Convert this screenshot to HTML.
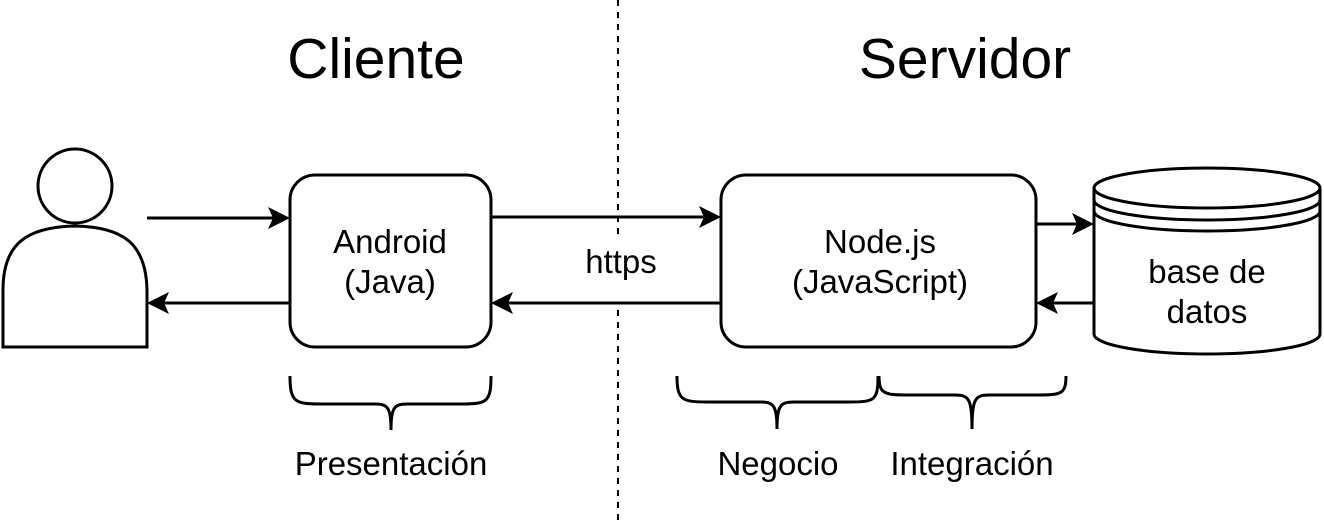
<!DOCTYPE html>
<html><head><style>body{margin:0;background:#fff}</style></head><body>
<svg width="1324" height="524" viewBox="0 0 1324 524" xmlns="http://www.w3.org/2000/svg" font-family="Liberation Sans, sans-serif">
<g stroke="#000" stroke-width="3" fill="none">
<line x1="618" y1="0" x2="618" y2="235" stroke-dasharray="6,6" stroke-width="2"/>
<line x1="618" y1="310" x2="618" y2="524" stroke-dasharray="6,6" stroke-width="2"/>
<circle cx="75" cy="186" r="37" fill="#fff"/>
<path d="M3,347 L3,290 C3,245 25,227 75,226 C125,227 146,245 147,290 L147,347 Z" fill="#fff"/>
<rect x="290" y="175" width="201" height="172" rx="25" fill="#fff"/>
<rect x="721" y="175" width="315" height="172" rx="25" fill="#fff"/>
<path d="M1094,188 L1094,334 A113,20 0 0 0 1320,334 L1320,188" fill="#fff"/>
<ellipse cx="1207" cy="188" rx="113" ry="20" fill="#fff"/>
<path d="M1094,200 A113,20 0 0 0 1320,200"/>
<path d="M1094,211 A113,20 0 0 0 1320,211"/>
<line x1="147" y1="218" x2="278" y2="218"/>
<line x1="290" y1="303" x2="160" y2="303"/>
<line x1="491" y1="217" x2="708" y2="217"/>
<line x1="721" y1="303" x2="503" y2="303"/>
<line x1="1036" y1="224" x2="1082" y2="224"/>
<line x1="1094" y1="303" x2="1048" y2="303"/>
<path d="M290,376 C290,402 295,404 320,404 L375,404 C388,404 391,408 391,430 M391,430 C391,408 394,404 407,404 L462,404 C487,404 491,402 491,376"/>
<path d="M677,376 C677,400 682,402 707,402 L760,402 C774,402 777,406 777,429 M777,429 C777,406 780,402 794,402 L850,402 C875,402 878,400 878,376"/>
<path d="M879,376 C879,393 884,395 905,395 L955,395 C969,395 972,399 972,429 M972,429 C972,399 975,395 989,395 L1040,395 C1062,395 1066,393 1066,376"/>
</g>
<g fill="#000">
<path d="M290,218 L268,207 L273,218 L268,229 Z"/>
<path d="M147,303 L169,292 L164,303 L169,314 Z"/>
<path d="M721,217 L699,206 L704,217 L699,228 Z"/>
<path d="M491,303 L513,292 L508,303 L513,314 Z"/>
<path d="M1094,224 L1072,213 L1077,224 L1072,235 Z"/>
<path d="M1036,303 L1058,292 L1053,303 L1058,314 Z"/>
</g>
<g text-anchor="middle" fill="#000">
<text x="376" y="78" font-size="57">Cliente</text>
<text x="965" y="78" font-size="57">Servidor</text>
<text x="390" y="253" font-size="33">Android</text>
<text x="390" y="293" font-size="33">(Java)</text>
<text x="880" y="253" font-size="33">Node.js</text>
<text x="880" y="293" font-size="33">(JavaScript)</text>
<text x="1207" y="283" font-size="33">base de</text>
<text x="1207" y="323" font-size="33">datos</text>
<text x="621" y="273" font-size="33">https</text>
<text x="391" y="475" font-size="33">Presentación</text>
<text x="778" y="475" font-size="33">Negocio</text>
<text x="972" y="475" font-size="33">Integración</text>
</g>
</svg>
</body></html>
